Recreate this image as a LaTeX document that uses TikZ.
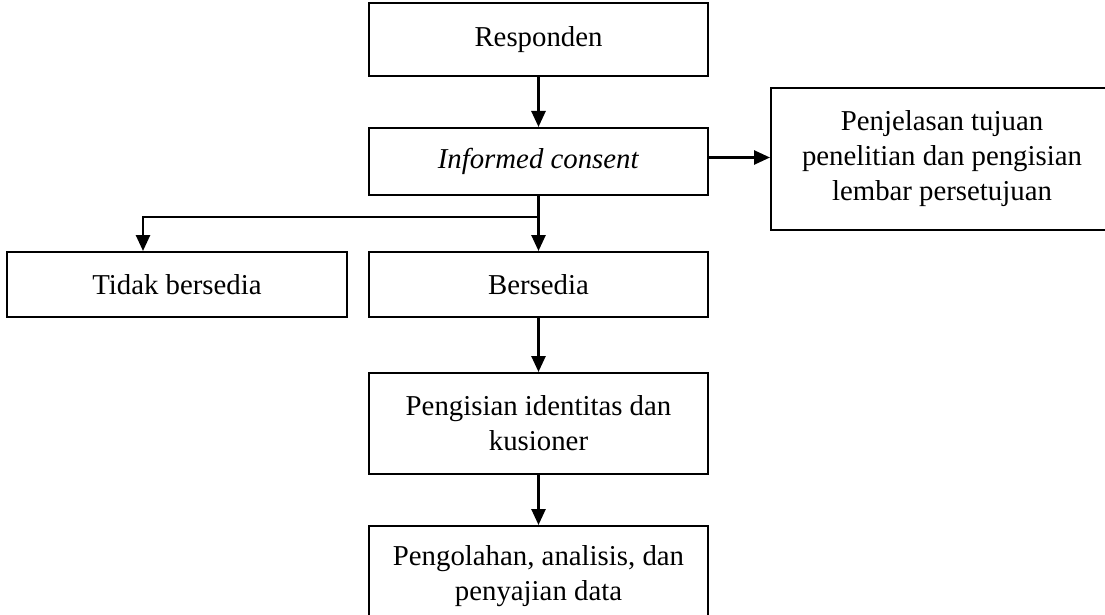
\documentclass[tikz,border=0pt]{standalone}
\usepackage{fontspec}
\setmainfont{Liberation Serif}
\usetikzlibrary{arrows.meta,positioning}

\begin{document}
\begin{tikzpicture}[x=1pt, y=1pt, node distance=50pt,
    box/.style={rectangle, draw, line width=2pt, align=center, minimum width=339pt, minimum height=67pt, inner sep=0pt, font=\fontsize{28.8}{35}\selectfont},
    arr/.style={-{Triangle[width=14pt,length=16pt]}, line width=2.6pt}]
    \useasboundingbox (0,0) rectangle (1105,-615);
    \node[box, minimum height=73pt] (resp) at (538.5,-39.5) {Responden};
    \node[box, below=50pt of resp] (consent) {\textit{Informed consent}};
    % box runs past the right margin, text kept over the visible part
    \node[box, minimum width=420pt, minimum height=142pt, right=61pt of consent, yshift=2.5pt] (penj) {\hspace*{-78pt}Penjelasan tujuan\\\hspace*{-78pt}penelitian dan pengisian\\\hspace*{-78pt}lembar persetujuan};
    \node[box, minimum height=65pt, below=55pt of consent] (bersedia) {Bersedia};
    \node[box, minimum width=340pt, minimum height=65pt, left=20pt of bersedia] (tidak) {Tidak bersedia};
    \node[box, minimum height=101pt, below=54pt of bersedia] (isi) {Pengisian identitas dan\\kusioner};
    \node[box, minimum height=101pt, below=50pt of isi] (olah) {Pengolahan, analisis, dan\\penyajian data};

    \coordinate (split) at ([yshift=-21pt]consent.south);

    \draw[arr] (resp) -- (consent);
    \draw[arr] ([yshift=4pt]consent.east) -- ([yshift=4pt]consent.east -| penj.west);
    \draw[arr] (consent) -- (bersedia);
    \draw[arr] (split) -| ([xshift=-34pt]tidak.north);
    \draw[arr] (bersedia) -- (isi);
    \draw[arr] (isi) -- (olah);
\end{tikzpicture}
\end{document}
